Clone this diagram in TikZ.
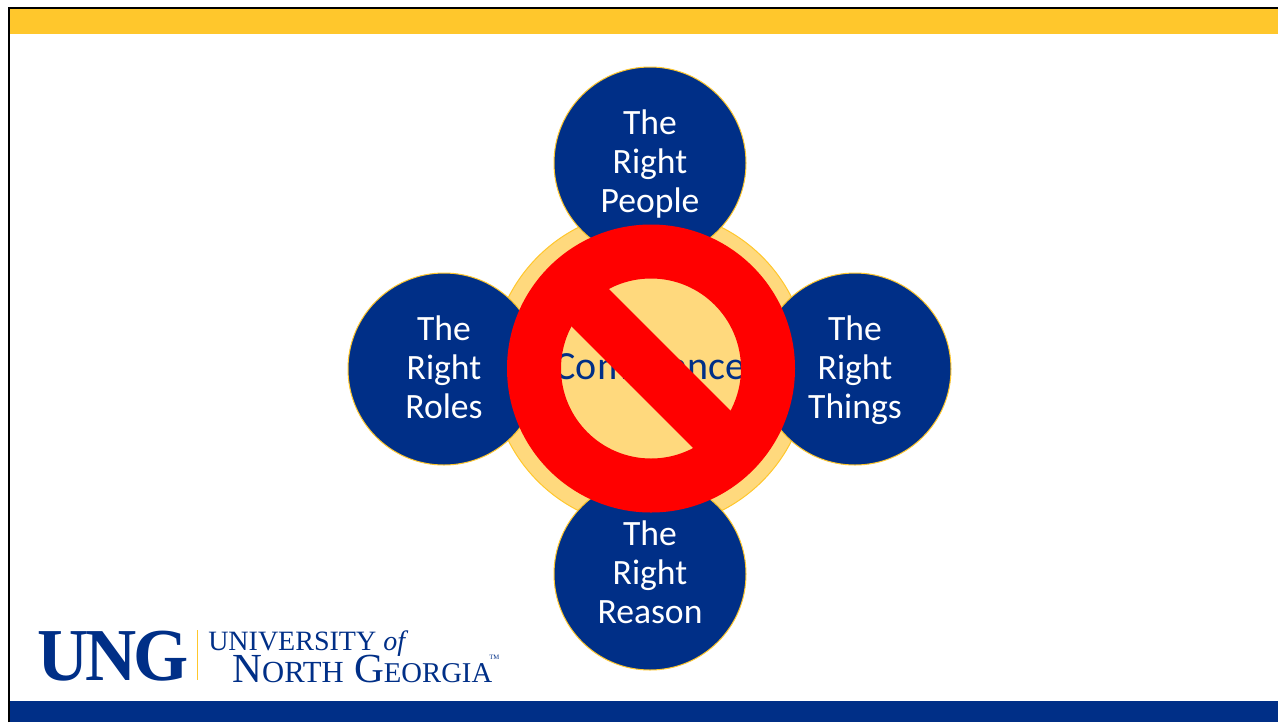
\documentclass[tikz,border=0pt]{standalone}
\usepackage{fontspec}
\setmainfont{Carlito}
\newfontfamily\logofont{Liberation Serif}
\usepackage{xcolor}
\definecolor{ungblue}{HTML}{002F87}
\definecolor{unggold}{HTML}{FFC72C}
\definecolor{ungpale}{HTML}{FFD97D}
\usetikzlibrary{positioning}
\begin{document}
\begin{tikzpicture}[x=0.75pt, y=-0.75pt, main node/.style={circle,draw=unggold,fill=ungblue,line width=.75pt,minimum size=144pt,inner sep=0pt,align=center,text=white,font=\fontsize{26.7}{29.25}\selectfont,execute at begin node={\rule{0pt}{83pt}},execute at end node={\rule[-8.8pt]{0pt}{0pt}}},logo node/.style={text=ungblue,inner sep=0pt,anchor=base west,font=\logofont}]
\useasboundingbox (0,0) rectangle (1278,722);
\fill[white] (0,0) rectangle (1278,722);
\begin{scope}
\fill[unggold] (9,8) rectangle (1278,34);
\fill[ungblue] (9,701) rectangle (1278,722);
\draw[line width=1.6pt] (9,722) -- (9,8) -- (1278,8);
\end{scope}
\begin{scope}
\node[circle,draw=unggold,fill=ungpale,line width=.75pt,minimum size=238pt,inner sep=0pt,text=ungblue,font=\fontsize{30}{36}\selectfont] (compliance) at (650,369) {Compliance};
\node[main node] (people) at (650,163) {The\\Right\\People};
\node[main node] (roles) at (444,369) {The\\Right\\Roles};
\node[main node] (things) at (855,369) {The\\Right\\Things};
\node[main node] (reason) at (650,574) {The\\Right\\Reason};
\end{scope}
\begin{scope}
\fill[red,even odd rule] (651,368.5) circle (144) (651,368.5) circle (90);
\fill[red,shift={(651,368.5)},rotate=-45] (-100,-26.5) rectangle (100,26.5);
\end{scope}
\begin{scope}
\node[logo node,font=\logofont\bfseries\fontsize{56}{56}\selectfont] (ung) at (37,680) {\scalebox{.95}[1]{U\kern-.04em N\kern-.05em G}};
\fill[unggold] (196.5,630) rectangle (197.5,680);
\node[logo node,font=\logofont\fontsize{21}{21}\selectfont] (university) at (208,650) {UNIVERSITY {\itshape of}};
\node[logo node,font=\logofont\fontsize{31}{31}\selectfont] (georgia) at (232,682) {N{\fontsize{23}{23}\selectfont ORTH} G{\fontsize{21.5}{21.5}\selectfont EORGIA\kern-.1em}\raisebox{.55em}{\fontsize{5}{5}\selectfont TM}};
\end{scope}
\end{tikzpicture}
\end{document}
